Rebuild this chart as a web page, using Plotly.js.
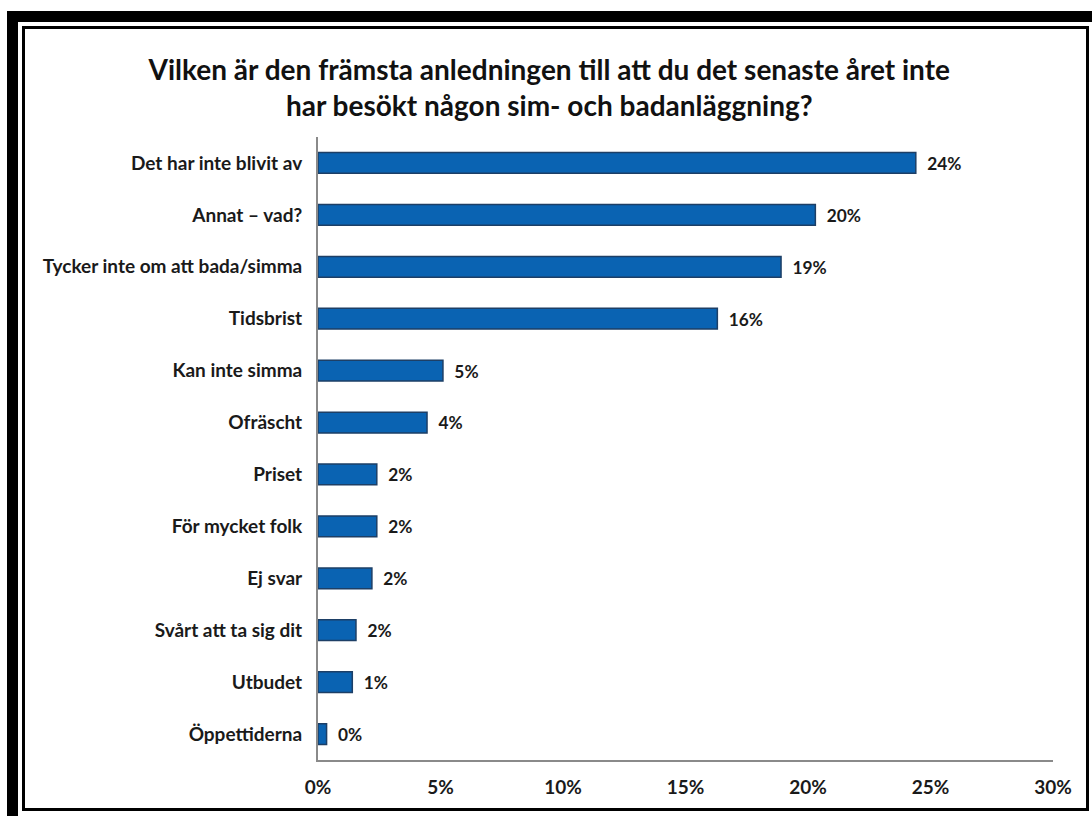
<!DOCTYPE html>
<html>
<head>
<meta charset="utf-8">
<script src="https://cdn.plot.ly/plotly-3.0.1.min.js"></script>
<style>
  html, body { margin: 0; padding: 0; background: #ffffff; }
  #wrap { position: relative; width: 1092px; height: 816px; overflow: hidden; }
  #chart { position: absolute; left: 0; top: 0; width: 1092px; height: 816px; }
  .frame { position: absolute; pointer-events: none; }
</style>
</head>
<body>
<div id="wrap">
  <div id="chart"></div>
  <div class="frame" style="left:7px; top:11px; width:11px; height:805px; background:#000;"></div>
  <div class="frame" style="left:7px; top:11px; width:1085px; height:11px; background:#000;"></div>
  <div class="frame" style="left:22px; top:26px; width:1061px; height:779px; border:3px solid #000;"></div>
</div>
<script>
const categories = [
  "Det har inte blivit av",
  "Annat – vad?",
  "Tycker inte om att bada/simma",
  "Tidsbrist",
  "Kan inte simma",
  "Ofräscht",
  "Priset",
  "För mycket folk",
  "Ej svar",
  "Svårt att ta sig dit",
  "Utbudet",
  "Öppettiderna"
];
const values = [0.244, 0.203, 0.189, 0.163, 0.051, 0.0445, 0.024, 0.024, 0.022, 0.0155, 0.014, 0.0035];
const xTickVals = [0, 0.05, 0.10, 0.15, 0.20, 0.25, 0.30];
const xTickText = ["0%", "5%", "10%", "15%", "20%", "25%", "30%"];
const titleText = "Vilken är den främsta anledningen till att du det senaste året inte<br>har besökt någon sim- och badanläggning?";

const FONT = "Lato, 'Open Sans', sans-serif";

const trace = {
  type: "bar",
  orientation: "h",
  x: values,
  y: categories,
  marker: { color: "#0a63b2", line: { color: "#1d3f66", width: 1.5 } },
  texttemplate: "  %{x:.0%}",
  textposition: "outside",
  cliponaxis: false,
  textfont: { family: FONT, size: 20, color: "#1a1a1a", weight: 700 },
  hoverinfo: "skip"
};

const layout = {
  width: 1092,
  height: 816,
  paper_bgcolor: "#ffffff",
  plot_bgcolor: "#ffffff",
  margin: { l: 318, r: 39, t: 137, b: 56 },
  bargap: 0.6,
  showlegend: false,
  font: { family: FONT, color: "#111" },
  title: {
    text: titleText,
    font: { family: FONT, size: 28, color: "#111", weight: 700 },
    x: 0.503,
    xanchor: "center",
    xref: "container",
    y: 1 - 80 / 816,
    yref: "container",
    yanchor: "top"
  },
  xaxis: {
    range: [0, 0.3],
    tickvals: xTickVals,
    ticktext: xTickText,
    showgrid: false,
    zeroline: false,
    showline: true,
    linecolor: "#8a8a8a",
    linewidth: 2,
    ticks: "",
    ticklabelstandoff: 9,
    tickfont: { family: FONT, size: 19, color: "#1a1a1a", weight: 700 },
    fixedrange: true
  },
  yaxis: {
    type: "category",
    categoryorder: "array",
    categoryarray: categories,
    autorange: "reversed",
    showgrid: false,
    zeroline: false,
    showline: true,
    linecolor: "#8a8a8a",
    linewidth: 2,
    ticks: "",
    ticklabelstandoff: 10,
    tickfont: { family: FONT, size: 19, color: "#1a1a1a", weight: 700 },
    fixedrange: true
  }
};

Plotly.newPlot("chart", [trace], layout, { displayModeBar: false, staticPlot: true });
</script>
</body>
</html>
